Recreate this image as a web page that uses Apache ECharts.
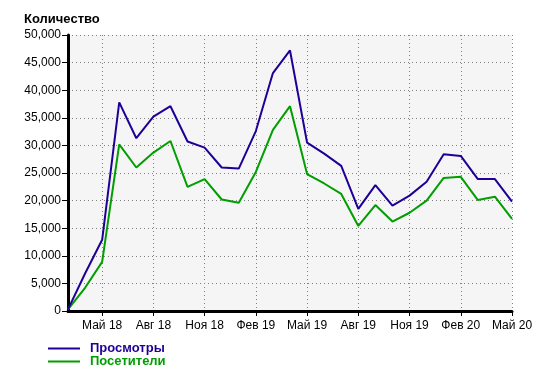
<!DOCTYPE html>
<html>
<head>
<meta charset="utf-8">
<script src="https://cdn.jsdelivr.net/npm/echarts@6/dist/echarts.min.js"></script>
<style>html,body{margin:0;padding:0;background:#fff}#c{width:546px;height:377px}</style>
</head>
<body>
<div id="c"></div>
<script>
var categories = ['Мар 18','Апр 18','Май 18','Июн 18','Июл 18','Авг 18','Сен 18','Окт 18','Ноя 18','Дек 18',
  'Янв 19','Фев 19','Мар 19','Апр 19','Май 19','Июн 19','Июл 19','Авг 19','Сен 19','Окт 19','Ноя 19','Дек 19',
  'Янв 20','Фев 20','Мар 20','Апр 20','Май 20'];
var views = [300, 6800, 12900, 37800, 31300, 35200, 37100, 30700, 29600, 26000, 25800, 32600, 43100, 47200,
  30500, 28500, 26300, 18500, 22800, 19100, 20900, 23400, 28400, 28100, 23900, 23900, 19800];
var visitors = [300, 4200, 8900, 30200, 26000, 28700, 30800, 22500, 23900, 20200, 19600, 25200, 32800, 37100,
  24800, 23100, 21200, 15400, 19200, 16200, 17800, 20000, 24100, 24300, 20100, 20700, 16700];
var yTicks = [0, 5000, 10000, 15000, 20000, 25000, 30000, 35000, 40000, 45000, 50000];
var seriesNames = ['Просмотры', 'Посетители'];
var colors = ['#1f0096', '#009e00'];

var FONT = '"Liberation Sans", Arial, sans-serif';
var showIdx = function (i) { return (i - 2) % 3 === 0; };
var chart = echarts.init(document.getElementById('c'), null, {renderer: 'canvas'});
chart.setOption({
  animation: false,
  backgroundColor: '#ffffff',
  title: {
    text: 'Количество', left: 19, top: 8,
    textStyle: {fontFamily: FONT, fontSize: 13, fontWeight: 'bold', color: '#000'}
  },
  legend: {
    orient: 'vertical', left: 43, top: 337, itemWidth: 32, itemHeight: 2, itemGap: 0,
    icon: 'rect',
    data: [
      {name: seriesNames[0], textStyle: {color: colors[0]}},
      {name: seriesNames[1], textStyle: {color: colors[1]}}
    ],
    textStyle: {fontFamily: FONT, fontSize: 13, fontWeight: 'bold', lineHeight: 12, padding: [0, 0, 0, 5]}
  },
  grid: {left: 68, right: 34, top: 35, bottom: 66, show: true, backgroundColor: '#f5f5f5', borderWidth: 0},
  xAxis: {
    type: 'category', data: categories, boundaryGap: false,
    axisLine: {lineStyle: {color: '#000', width: 3}},
    axisTick: {show: true, length: 5, interval: showIdx, lineStyle: {color: '#000', width: 1}},
    axisLabel: {interval: showIdx, margin: 9, fontFamily: FONT, fontSize: 12, color: '#000'},
    splitLine: {show: true, interval: showIdx, lineStyle: {color: '#808080', type: [1, 3], width: 1}}
  },
  yAxis: {
    type: 'value', min: yTicks[0], max: yTicks[yTicks.length - 1], interval: yTicks[1] - yTicks[0],
    axisLine: {show: true, lineStyle: {color: '#000', width: 3}},
    axisTick: {show: true, length: 6, lineStyle: {color: '#000', width: 1}},
    axisLabel: {margin: 7, fontFamily: FONT, fontSize: 12, color: '#000',
      formatter: function (v) { return v.toLocaleString('en-US'); }},
    splitLine: {show: true, lineStyle: {color: '#808080', type: [1, 3], width: 1}}
  },
  series: [
    {name: seriesNames[0], type: 'line', data: views, symbol: 'none', color: colors[0],
      lineStyle: {width: 2, color: colors[0]}, z: 3},
    {name: seriesNames[1], type: 'line', data: visitors, symbol: 'none', color: colors[1],
      lineStyle: {width: 2, color: colors[1]}, z: 2}
  ]
});
</script>
</body>
</html>
